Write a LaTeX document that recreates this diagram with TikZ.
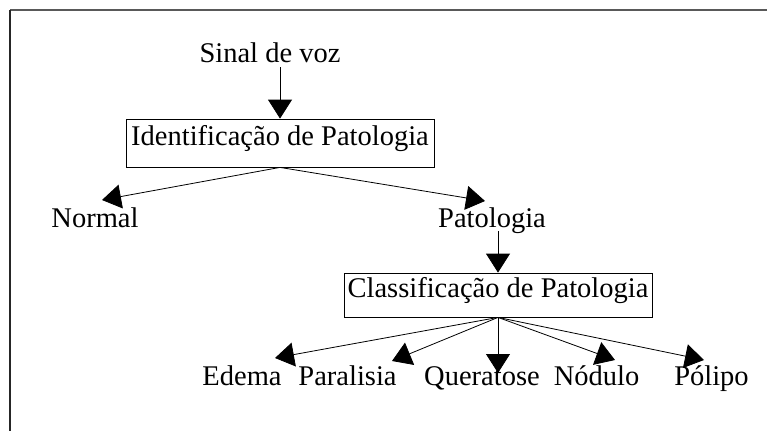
\documentclass[tikz,border=0pt]{standalone}
\usepackage{fontspec}
\setmainfont{Liberation Serif}
\usepackage{tikz}
\usetikzlibrary{arrows.meta}

\begin{document}
\begin{tikzpicture}[x=1bp,y=-1bp,
		font=\fontsize{28.5bp}{34bp}\selectfont,
		lbl/.style={inner sep=0pt,anchor=base},
		bloco/.style={draw,line width=0.8bp,inner sep=0pt,minimum width=308bp,text height=0.66em,text depth=0.22em},
		seta/.style={line width=0.8bp,-{Triangle[length=19bp,width=24bp]}}]
		\useasboundingbox (0,0) rectangle (767,431);
		\draw [line width=1.2bp,black!65] (10,10) -- (767,10);
		\draw [line width=1.2bp,black!85] (10,10) -- (10,431);

		\node[lbl] (sinal) at (270,62) {Sinal de voz};
		\node[bloco,minimum height=48bp] (ident) at (280,143) {Identificação de Patologia};
		\node[lbl] (normal) at (95,227) {Normal};
		\node[lbl] (patol) at (492,227) {Patologia};
		\node[bloco,minimum height=44bp] (classif) at (498,295) {Classificação de Patologia};

		\node[lbl] (edema) at (242,385) {Edema};
		\node[lbl] (paral) at (347.5,385) {Paralisia};
		\node[lbl] (querat) at (482,385) {Queratose};
		\node[lbl] (nodulo) at (596.5,385) {Nódulo};
		\node[lbl] (polipo) at (711.5,385) {Pólipo};

		\draw [seta] ([shift={(10,5)}]sinal.base) -- (ident.north);
		\draw [seta] (ident.south) -- ([shift={(7,-27)}]normal.base);
		\draw [seta] (ident.south) -- ([shift={(-7,-26)}]patol.base);
		\draw [seta] ([shift={(6,4)}]patol.base) -- (classif.north);

		\draw [seta] (classif.south) -- ([shift={(33,-27)}]edema.base);
		\draw [seta] (classif.south) -- ([shift={(44.5,-24)}]paral.base);
		\draw [seta] (classif.south) -- ([shift={(16,-12)}]querat.base);
		\draw [seta] (classif.south) -- ([shift={(18.5,-25)}]nodulo.base);
		\draw [seta] (classif.south) -- ([shift={(-7.5,-25)}]polipo.base);
	\end{tikzpicture}
\end{document}
